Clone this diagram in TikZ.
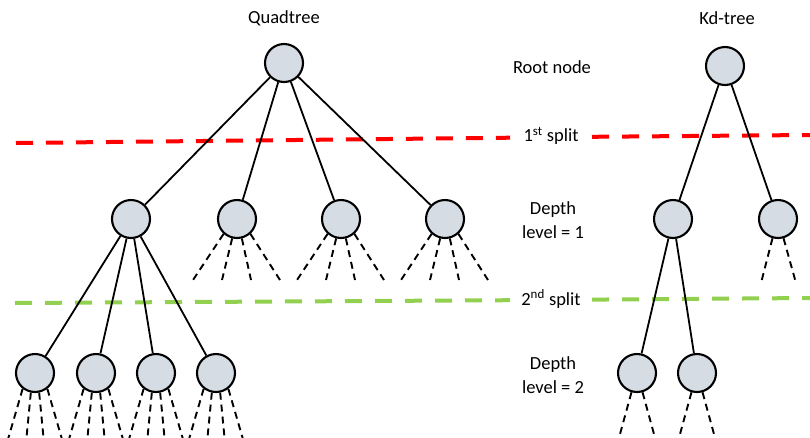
\documentclass[tikz,border=0pt]{standalone}
\usepackage{fontspec}
\setmainfont{Carlito}
\usepackage{xcolor}
\usetikzlibrary{calc}
\definecolor{nodefill}{HTML}{D6DCE4}
\definecolor{splitred}{HTML}{FF0000}
\definecolor{splitgreen}{HTML}{92D050}

\begin{document}
\begin{tikzpicture}[x=1pt,y=-1pt,line join=round,
  tnode/.style={circle,draw,fill=nodefill,line width=2.1pt,minimum size=38pt,inner sep=0pt},
  edge/.style={line width=1.8pt},
  leaf/.style={line width=1.9pt,dash pattern=on 7pt off 5pt},
  split/.style={line width=4pt,dash pattern=on 17pt off 13pt},
  lbl/.style={font=\fontsize{18.5}{24}\selectfont,align=center,inner sep=1pt}]
  \useasboundingbox (0,0) rectangle (810,437);
  \clip (0,0) rectangle (810,437);

  % split lines
  \draw[split,splitred] (16,143) -- (510,137.7);
  \draw[split,splitred] (592,136.8) -- (810,135);
  \draw[split,splitgreen] (15,303) -- (510,300.2);
  \draw[split,splitgreen] (592,299.6) -- (810,298);

  % quadtree
  \node[tnode] (QR) at (284,63) {};
  \node[tnode] (Q1) at (131,219) {};
  \node[tnode] (Q2) at (237,219) {};
  \node[tnode] (Q3) at (341,219) {};
  \node[tnode] (Q4) at (445,219) {};
  \node[tnode] (Q11) at (35,373) {};
  \node[tnode] (Q12) at (96,373) {};
  \node[tnode] (Q13) at (156,373) {};
  \node[tnode] (Q14) at (216,373) {};
  \foreach \c in {Q1,Q2,Q3,Q4} \draw[edge] (QR) -- (\c);
  \foreach \c in {Q11,Q12,Q13,Q14} \draw[edge] (Q1) -- (\c);
  \foreach \n in {Q2,Q3,Q4} {
    \draw[leaf] (\n.-132) -- ($(\n)+(-44,61)$);
    \draw[leaf] (\n.-104) -- ($(\n)+(-15,61)$);
    \draw[leaf] (\n.-76) -- ($(\n)+(14,61)$);
    \draw[leaf] (\n.-48) -- ($(\n)+(43,61)$);
  }
  \foreach \n in {Q11,Q12,Q13,Q14} {
    \draw[leaf] (\n.-128) -- ($(\n)+(-31,80)$);
    \draw[leaf] (\n.-102) -- ($(\n)+(-10,80)$);
    \draw[leaf] (\n.-78) -- ($(\n)+(10,80)$);
    \draw[leaf] (\n.-52) -- ($(\n)+(31,80)$);
  }

  % kd-tree
  \node[tnode] (KR) at (725,66) {};
  \node[tnode] (K1) at (673,219) {};
  \node[tnode] (K2) at (778,219) {};
  \node[tnode] (K11) at (637,373) {};
  \node[tnode] (K12) at (697,373) {};
  \draw[edge] (KR) -- (K1);
  \draw[edge] (KR) -- (K2);
  \draw[edge] (K1) -- (K11);
  \draw[edge] (K1) -- (K12);
  \draw[leaf] (K2.-106) -- ($(K2)+(-17,64)$);
  \draw[leaf] (K2.-74) -- ($(K2)+(18,64)$);
  \foreach \n in {K11,K12} {
    \draw[leaf] (\n.-106) -- ($(\n)+(-20,72)$);
    \draw[leaf] (\n.-74) -- ($(\n)+(20,72)$);
  }

  % titles and level labels
  \node[lbl] (tquad) at (284,18) {Quadtree};
  \node[lbl] (tkd) at (727,18) {Kd-tree};
  \node[lbl] (lroot) at (552,67) {Root node};
  \node[lbl] (lsplit1) at (551,136) {1\textsuperscript{st} split};
  \node[lbl] (ldepth1) at (553,220) {Depth\\level = 1};
  \node[lbl] (lsplit2) at (551,299) {2\textsuperscript{nd} split};
  \node[lbl] (ldepth2) at (553,375) {Depth\\level = 2};
\end{tikzpicture}
\end{document}
